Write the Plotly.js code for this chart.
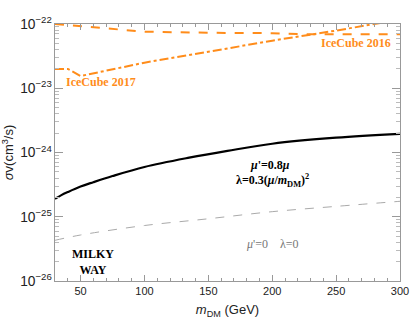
<!DOCTYPE html>
<html>
<head>
<meta charset="utf-8">
<script src="https://cdn.plot.ly/plotly-3.0.1.min.js"></script>
<style>
  html, body { margin: 0; padding: 0; background: #fff; }
  #plot { width: 411px; height: 326px; }
</style>
</head>
<body>
<div id="plot"></div>
<script>
// mass grid (GeV) and cross sections
var massMod = [30, 35, 40, 50, 60, 75, 100, 135, 165, 200, 250, 300];
var sigmaMod = [1.9e-25, 2.17e-25, 2.42e-25, 2.95e-25, 3.45e-25, 4.3e-25, 5.95e-25, 8.3e-25, 1.06e-24, 1.37e-24, 1.7e-24, 1.95e-24];

var massZero = [30, 50, 100, 150, 200, 250, 300];
var sigmaZero = [4.3e-26, 5.2e-26, 7.3e-26, 9.3e-26, 1.2e-25, 1.45e-25, 1.74e-25];

var mass2016 = [30, 50, 75, 100, 150, 200, 230, 300];
var ice2016 = [1.0e-22, 9.2e-23, 8.3e-23, 7.6e-23, 7.3e-23, 7.2e-23, 6.9e-23, 6.9e-23];

var mass2017 = [30, 40, 50, 100, 150, 200, 250, 300];
var ice2017 = [2.0e-23, 2.0e-23, 1.55e-23, 2.5e-23, 3.7e-23, 5.5e-23, 7.9e-23, 1.17e-22];

var orange = '#ff8c1a';
var serif = 'Liberation Serif, Times New Roman, serif';
var sans = 'Liberation Sans, Arial, sans-serif';

var traces = [
  {x: mass2016, y: ice2016, type: 'scatter', mode: 'lines',
   line: {color: orange, width: 2, dash: 'dash'}},
  {x: mass2017, y: ice2017, type: 'scatter', mode: 'lines',
   line: {color: orange, width: 2, dash: 'dashdot'}},
  {x: massMod, y: sigmaMod, type: 'scatter', mode: 'lines',
   line: {color: '#000', width: 2.2, shape: 'spline', smoothing: 1}},
  {x: massZero, y: sigmaZero, type: 'scatter', mode: 'lines',
   line: {color: '#aaa', width: 1, dash: 'dash', shape: 'spline'}}
];

function note(x, y, text, color, size) {
  return {x: x, y: y, xref: 'x', yref: 'y', text: text, showarrow: false,
          font: {family: serif, size: size, color: color}};
}

var layout = {
  width: 411, height: 326,
  margin: {l: 55, r: 11, t: 24, b: 45},
  showlegend: false,
  paper_bgcolor: '#fff', plot_bgcolor: '#fff',
  xaxis: {
    range: [30, 300], dtick: 50, tick0: 0,
    showgrid: false, zeroline: false,
    showline: true, mirror: 'allticks', linecolor: '#999', linewidth: 1,
    ticks: 'inside', ticklen: 6, tickcolor: '#999',
    minor: {dtick: 10, ticks: 'inside', ticklen: 3, tickcolor: '#999'},
    tickfont: {family: sans, size: 11, color: '#222'},
    title: {text: '<i>m</i><sub>DM</sub> (GeV)', font: {family: sans, size: 13, color: '#222'}, standoff: 8}
  },
  yaxis: {
    type: 'log', range: [-26, -22], dtick: 1,
    exponentformat: 'power',
    showgrid: false, zeroline: false,
    showline: true, mirror: 'allticks', linecolor: '#999', linewidth: 1,
    ticks: 'inside', ticklen: 8, tickcolor: '#999',
    minor: {dtick: 'D1', ticks: 'inside', ticklen: 4, tickcolor: '#bbb'},
    tickfont: {family: sans, size: 11, color: '#222'},
    title: {text: '<i>σ</i>v(cm<sup>3</sup>/s)', font: {family: sans, size: 13, color: '#222'}, standoff: 6}
  },
  annotations: [
    note(66, -22.9, '<b>IceCube 2017</b>', orange, 12),
    note(265.5, -22.3, '<b>IceCube 2016</b>', orange, 12),
    note(198, -24.19, "<b><i>μ</i>'=0.8<i>μ</i></b>", '#000', 12),
    note(200, -24.43, '<b>λ=0.3(<i>μ</i>/<i>m</i><sub>DM</sub>)<sup>2</sup></b>', '#000', 12),
    note(60, -25.7, '<b>MILKY<br>WAY</b>', '#000', 12),
    note(200, -25.42, "<i>μ</i>'=0    λ=0", '#777', 12)
  ]
};

Plotly.newPlot('plot', traces, layout, {staticPlot: true});
</script>
</body>
</html>
